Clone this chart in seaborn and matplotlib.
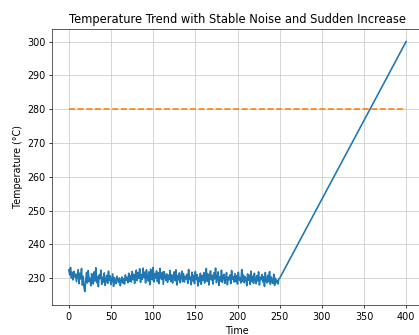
import numpy as np
import pandas as pd
import matplotlib
matplotlib.use("Agg")
import matplotlib.pyplot as plt
import seaborn as sns

# valores leidos a ojo del grafico (tramo estable con ruido, t = 0..249)
stable_temp = [
    232.5, 231.0, 233.2, 230.1, 231.8, 229.5, 232.0, 230.4, 231.2, 229.0,
    230.8, 232.6, 228.4, 231.5, 229.8, 232.9, 228.0, 230.6, 227.2, 226.1,
    229.4, 231.7, 228.6, 232.3, 229.1, 230.0, 227.8, 231.4, 229.6, 228.3,
    231.9, 229.2, 233.1, 228.7, 230.5, 227.5, 231.0, 229.9, 232.4, 228.2,
    230.3, 228.9, 231.6, 227.9, 229.7, 230.9, 228.5, 232.1, 229.3, 230.7,
    228.1, 229.8, 231.3, 227.6, 230.2, 229.0, 228.4, 230.6, 229.5, 228.8,
    230.1, 227.8, 229.2, 230.4, 228.6, 229.9, 228.3, 231.0, 229.4, 230.3,
    228.7, 231.5, 229.1, 230.8, 228.9, 232.0, 229.6, 231.2, 228.5, 230.9,
    232.4, 229.3, 231.7, 230.0, 232.8, 228.8, 231.1, 229.7, 233.0, 230.2,
    231.8, 228.6, 232.5, 230.4, 229.2, 231.9, 228.1, 232.7, 230.6, 229.5,
    233.2, 228.9, 231.4, 230.1, 232.2, 229.0, 231.6, 228.4, 232.9, 230.3,
    229.7, 231.8, 228.2, 232.0, 230.5, 229.4, 231.3, 228.8, 230.9, 229.6,
    232.3, 229.1, 231.0, 228.6, 230.7, 231.9, 229.3, 232.5, 228.0, 230.8,
    229.5, 231.6, 228.7, 230.2, 232.1, 229.0, 231.4, 228.9, 230.6, 229.8,
    231.2, 228.5, 232.6, 229.7, 230.4, 228.1, 231.8, 229.2, 230.9, 228.4,
    232.0, 229.6, 231.1, 227.7, 230.3, 229.0, 231.5, 228.2, 230.8, 229.4,
    231.7, 228.6, 230.5, 232.9, 229.1, 231.3, 228.0, 230.7, 232.2, 229.5,
    230.9, 228.3, 231.6, 229.8, 233.0, 228.7, 230.1, 231.9, 227.9, 230.4,
    229.2, 232.4, 228.8, 230.6, 231.2, 228.5, 229.9, 231.7, 228.1, 230.3,
    229.6, 231.0, 228.4, 232.3, 229.7, 230.5, 228.9, 231.4, 229.0, 230.8,
    228.3, 231.8, 229.5, 230.2, 228.6, 232.6, 229.1, 231.0, 228.7, 230.5,
    229.8, 227.8, 231.3, 229.4, 230.9, 228.2, 232.1, 229.0, 230.6, 228.5,
    231.5, 229.7, 228.4, 230.8, 229.2, 231.9, 228.0, 230.3, 229.6, 231.1,
    228.9, 230.5, 227.6, 231.7, 229.3, 228.6, 230.9, 229.0, 232.0, 228.2,
    230.4, 229.1, 228.5, 231.2, 227.9, 230.0, 228.7, 229.4, 228.3, 229.8,
]
stable_time = list(range(250))

# subida brusca: de 230 en t=250 a 300 en t=400
rise_time = [250, 400]
rise_temp = [230.0, 300.0]

# linea de referencia
threshold_time = [0, 400]
threshold_temp = [280, 280]

#_______________________________________________________________________________________________________________
df = pd.DataFrame({
    "Time": stable_time + rise_time,
    "Temperature": stable_temp + rise_temp,
})
df_thr = pd.DataFrame({"Time": threshold_time, "Temperature": threshold_temp})

dpi = 69
fig = plt.figure(figsize=(419 / dpi, 335 / dpi), dpi=dpi)
ax = fig.add_axes([52 / 419, 30 / 335, 371 / 419, 276 / 335])

sns.lineplot(data=df, x="Time", y="Temperature", color="C0", ax=ax, linewidth=1.7)
sns.lineplot(data=df_thr, x="Time", y="Temperature", color="C1", linestyle="--", ax=ax, linewidth=1.7)

ax.set_xlim(-20, 420)
ax.set_ylim(222.1, 303.7)
ax.set_xticks(range(0, 401, 50))
ax.set_title("Temperature Trend with Stable Noise and Sudden Increase")
ax.set_xlabel("Time")
ax.set_ylabel("Temperature (°C)")
ax.grid(True, color="#cccccc")
for s in ax.spines.values():
    s.set_color("#333333")

fig.savefig("out.png", dpi=dpi)
